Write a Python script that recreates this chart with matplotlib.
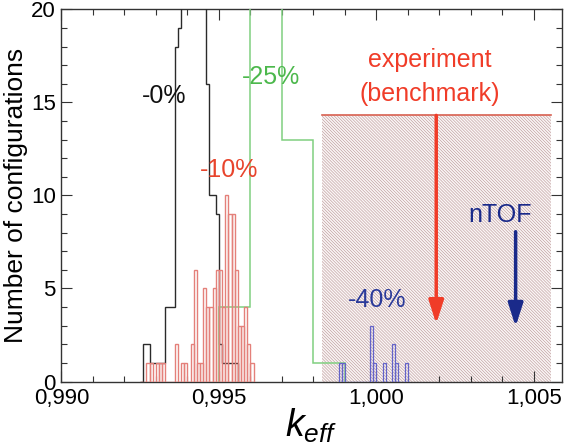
import numpy as np
import matplotlib
matplotlib.use("Agg")
import matplotlib.pyplot as plt
from matplotlib.ticker import MultipleLocator

plt.rcParams['font.family'] = ['Liberation Sans', 'DejaVu Sans']
plt.rcParams['mathtext.fontset'] = 'custom'
plt.rcParams['mathtext.it'] = 'Liberation Sans:italic'
plt.rcParams['mathtext.rm'] = 'Liberation Sans'
plt.rcParams['hatch.linewidth'] = 0.4

# ---------------- data ----------------
bin_width = 0.0001
black_start = 0.9925
black_counts = [0, 2, 2, 1, 1, 1, 1, 1, 4, 4, 4, 18, 19,
                26, 34, 42, 48, 50, 44, 36, 28,
                16, 10, 10, 9, 2, 1, 1, 1, 1, 1]

red_start = 0.9925
red_counts = [0, 0, 1, 1, 0, 1, 1, 1, 0, 0, 0, 2, 0, 1, 1, 0, 2, 6, 1, 1,
              5, 4, 4, 5, 6, 6, 4, 10, 9, 9, 6, 3, 3, 4, 2, 1]

green_edges = [0.995, 0.996, 0.997, 0.998, 0.999]
green_counts = [4, 82, 13, 1]

blue_start = 0.9988
blue_counts = [1, 1, 0, 0, 0, 0, 0, 0, 0, 0, 3, 1, 0, 0, 1, 0, 0, 2, 1, 0, 0, 1]

bench_center = 1.0019
bench_halfwidth = 0.00364
bench_height = 14.3
ntof_value = 1.00442

xticks = [0.990, 0.995, 1.000, 1.005]
xtick_labels = ["0,990", "0,995", "1,000", "1,005"]
yticks = [0, 5, 10, 15, 20]

# ---------------- figure ----------------
fig = plt.figure(figsize=(5.85, 4.48), dpi=100)
ax = fig.add_axes([0.105, 0.1484, 0.855, 0.8308])

# benchmark band
ax.fill_between([bench_center - bench_halfwidth, bench_center + bench_halfwidth],
                0, bench_height, facecolor='#faf5f5', edgecolor='#b89494',
                hatch='\\' * 11, linewidth=0, zorder=1)
ax.plot([bench_center - bench_halfwidth, bench_center + bench_halfwidth],
        [bench_height, bench_height], color='#d86050', lw=1.2, zorder=2)

# black histogram (outline)
bk_edges = black_start + bin_width * np.arange(len(black_counts) + 1)
ax.stairs(black_counts, bk_edges, color='#2a2a2a', lw=1.0, zorder=3)

# green histogram
ax.stairs(green_counts, green_edges, color='#80d080', lw=1.1, zorder=3)

# red bars
rd_left = red_start + bin_width * np.arange(len(red_counts))
ax.bar(rd_left, red_counts, width=bin_width, align='edge', facecolor='none',
       edgecolor='#e4807a', lw=1.0, zorder=4)

# blue bars
bl_left = blue_start + bin_width * np.arange(len(blue_counts))
ax.bar(bl_left, blue_counts, width=bin_width, align='edge', facecolor='none',
       edgecolor='#6464c8', lw=0.9, hatch='||', zorder=4)

# arrows
ax.annotate('', xy=(bench_center, 3.1), xytext=(bench_center, bench_height),
            arrowprops=dict(arrowstyle='-|>,head_length=1.4,head_width=0.45',
                            lw=2.5, color='#f03c28', shrinkA=0, shrinkB=0),
            zorder=5)
ax.annotate('', xy=(ntof_value, 2.95), xytext=(ntof_value, 8.05),
            arrowprops=dict(arrowstyle='-|>,head_length=1.4,head_width=0.45',
                            lw=2.5, color='#1a2a8a', shrinkA=0, shrinkB=0),
            zorder=5)

# labels
fs = 18
ax.text(0.99325, 15.35, "-0%", color='#111111', fontsize=fs, ha='center', va='center')
ax.text(0.99532, 11.37, "-10%", color='#e8442c', fontsize=fs, ha='center', va='center')
ax.text(0.99665, 16.34, "-25%", color='#4cb84c', fontsize=fs, ha='center', va='center')
ax.text(1.00002, 4.38, "-40%", color='#2a3a9a', fontsize=fs, ha='center', va='center')
ax.text(1.00392, 8.95, "nTOF", color='#1a2a8a', fontsize=fs, ha='center', va='center')
ax.text(1.0017, 17.3, "experiment", color='#f03c28', fontsize=fs, ha='center', va='center')
ax.text(1.0017, 15.45, "(benchmark)", color='#f03c28', fontsize=fs, ha='center', va='center')

# axes
ax.set_xlim(0.990, 1.00588)
ax.set_ylim(0, 20)
ax.set_xticks(xticks)
ax.set_xticklabels(xtick_labels)
ax.set_yticks(yticks)
ax.xaxis.set_minor_locator(MultipleLocator(0.001))
ax.yaxis.set_minor_locator(MultipleLocator(1))
ax.tick_params(which='both', direction='in', top=True, right=True, labelsize=16,
               color='#333333')
ax.tick_params(which='major', length=8, width=0.8)
ax.tick_params(which='minor', length=4.5, width=0.8)
ax.tick_params(axis='x', pad=5)
ax.tick_params(axis='y', pad=4)
for s in ax.spines.values():
    s.set_color('#333333')
    s.set_linewidth(1.0)

ax.set_ylabel("Number of configurations", fontsize=19, labelpad=2)
ax.set_xlabel(r"$k_{eff}$", fontsize=27, labelpad=-2)

fig.savefig("out.png", dpi=100)
